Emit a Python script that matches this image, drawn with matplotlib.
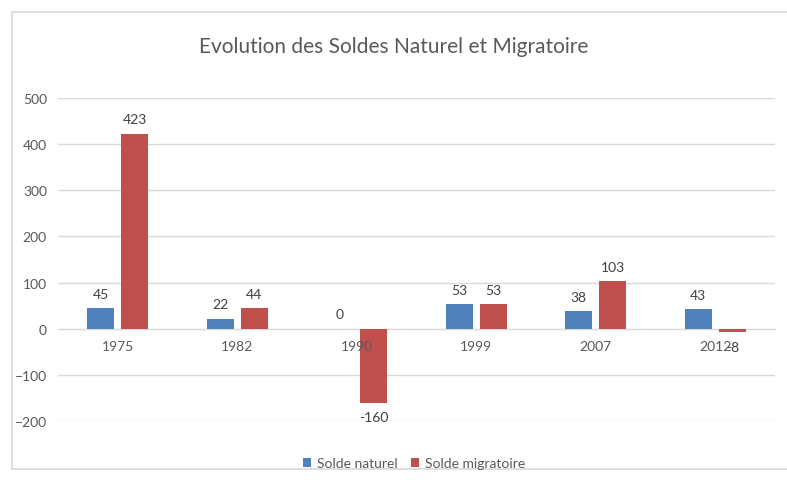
import numpy as np
import matplotlib.pyplot as plt
from matplotlib.patches import Rectangle

# data
years = ["1975", "1982", "1990", "1999", "2007", "2012"]
naturel = [45, 22, 0, 53, 38, 43]
migratoire = [423, 44, -160, 53, 103, -8]

blue = '#4F81BD'
red = '#C0504D'
txt = '#595959'
plt.rcParams['font.family'] = ['Lato', 'DejaVu Sans']

fig = plt.figure(figsize=(7.87, 4.81), dpi=100)
fig.patches.append(Rectangle((12/787, 11/481), 1, 1 - 24/481, transform=fig.transFigure,
                             facecolor='white', edgecolor='#D9D9D9', lw=1.2, zorder=-1))
ax = fig.add_axes([58/787, 1 - 422/481, 717/787, 323/481])

barWidth = 0.225
off = 0.142
x = np.arange(len(years))
ax.bar(x - off, naturel, width=barWidth, color=blue, label='Solde naturel', zorder=3)
ax.bar(x + off, migratoire, width=barWidth, color=red, label='Solde migratoire', zorder=3)

for xi, v in zip(x - off, naturel):
    ax.annotate(str(v), (xi, v), xytext=(0, 6 if v >= 0 else -6), textcoords='offset points',
                ha='center', va='bottom' if v >= 0 else 'top', fontsize=10, color='#404040')
for xi, v in zip(x + off, migratoire):
    ax.annotate(str(v), (xi, v), xytext=(0, 6 if v >= 0 else -6), textcoords='offset points',
                ha='center', va='bottom' if v >= 0 else 'top', fontsize=10, color='#404040')

ax.set_xlim(-0.5, len(years) - 0.5)
ax.set_ylim(-200, 500)
ax.set_yticks(range(-200, 501, 100))
ax.grid(axis='y', color='#D9D9D9', lw=1, zorder=0)
ax.set_xticks(x)
ax.set_xticklabels(years)
for s in ['top', 'right', 'left']:
    ax.spines[s].set_visible(False)
ax.spines['bottom'].set_position(('data', 0))
ax.spines['bottom'].set_color('#D9D9D9')
ax.spines['bottom'].set_zorder(2)
ax.xaxis.set_zorder(4)
ax.tick_params(axis='both', length=0, colors=txt, labelsize=10)
ax.tick_params(axis='x', pad=8)
ax.tick_params(axis='y', pad=8)

fig.text(0.5, 1 - 47/481, 'Evolution des Soldes Naturel et Migratoire', ha='center', va='center',
         fontsize=15, color=txt)

h, l = ax.get_legend_handles_labels()
fig.legend(h, l, loc='center', bbox_to_anchor=(414/787, 1 - 464/481), ncol=2, frameon=False,
           fontsize=10, labelcolor=txt, handlelength=0.6, handleheight=0.6, columnspacing=1.0,
           handletextpad=0.4)

fig.savefig('out.png', dpi=100)
